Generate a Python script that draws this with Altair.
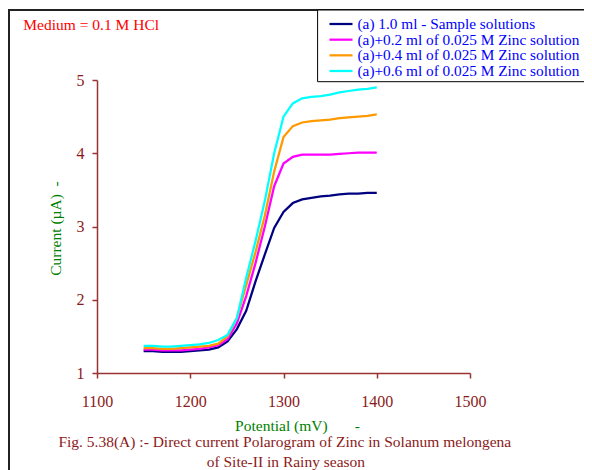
import altair as alt
import pandas as pd

# ---- data ----
potential = [1150, 1160, 1170, 1180, 1190, 1200, 1210, 1220, 1230, 1240, 1250, 1260, 1270,
             1280, 1290, 1300, 1310, 1320, 1330, 1340, 1350, 1360, 1370, 1380, 1390, 1400]
sample = [1.30, 1.30, 1.29, 1.29, 1.29, 1.30, 1.31, 1.32, 1.35, 1.43, 1.60, 1.85, 2.25,
          2.62, 2.98, 3.20, 3.32, 3.37, 3.39, 3.41, 3.42, 3.44, 3.45, 3.45, 3.46, 3.46]
zinc02 = [1.32, 1.32, 1.31, 1.31, 1.31, 1.32, 1.33, 1.35, 1.38, 1.46, 1.68, 2.05, 2.50,
          3.00, 3.55, 3.86, 3.95, 3.98, 3.98, 3.98, 3.98, 3.99, 4.00, 4.01, 4.01, 4.01]
zinc04 = [1.34, 1.34, 1.33, 1.33, 1.34, 1.35, 1.36, 1.37, 1.40, 1.50, 1.75, 2.20, 2.65,
          3.15, 3.75, 4.22, 4.37, 4.42, 4.44, 4.45, 4.46, 4.48, 4.49, 4.50, 4.51, 4.53]
zinc06 = [1.37, 1.37, 1.36, 1.36, 1.37, 1.38, 1.39, 1.41, 1.45, 1.52, 1.75, 2.30, 2.80,
          3.35, 4.00, 4.50, 4.68, 4.75, 4.77, 4.78, 4.80, 4.83, 4.85, 4.87, 4.88, 4.90]

series_names = ["(a) 1.0 ml - Sample solutions",
                "(a)+0.2 ml of 0.025 M Zinc solution",
                "(a)+0.4 ml of 0.025 M Zinc solution",
                "(a)+0.6 ml of 0.025 M Zinc solution"]
series_colors = ["#000080", "#ff00ff", "#ff9900", "#00ffff"]

x_ticks = [1100, 1200, 1300, 1400, 1500]
y_ticks = [1, 2, 3, 4, 5]

medium_text = "Medium = 0.1 M HCl"
caption_lines = ["Fig. 5.38(A) :- Direct current Polarogram of Zinc in Solanum melongena",
                 "of Site-II in Rainy season"]

FONT = "Liberation Serif"
AXIS_COLOR = "#993333"
LABEL_COLOR = "#8b1a1a"

rows = []
for name, vals in zip(series_names, [sample, zinc02, zinc04, zinc06]):
    for p, v in zip(potential, vals):
        rows.append({"series": name, "potential": p, "current": v})
df = pd.DataFrame(rows)

one = pd.DataFrame({"k": [0]})

frame = alt.Chart(one).mark_rect(fillOpacity=0, stroke="#222222", strokeWidth=2).encode(
    x=alt.value(-88), x2=alt.value(700), y=alt.value(-70), y2=alt.value(700)
)

lines = alt.Chart(df).mark_line(strokeWidth=2.25).encode(
    x=alt.X("potential:Q",
            scale=alt.Scale(domain=[1100, 1500], nice=False, zero=False),
            axis=alt.Axis(values=x_ticks, format="d", grid=False, labelFlush=False,
                          title="Potential (mV)\u00a0\u00a0\u00a0\u00a0\u00a0\u00a0\u00a0-",
                          titleX=200, titleY=52, titleAlign="center",
                          titleBaseline="middle",
                          labelPadding=15, tickSize=5)),
    y=alt.Y("current:Q",
            scale=alt.Scale(domain=[1, 5], nice=False, zero=False),
            axis=alt.Axis(values=y_ticks, format="d", grid=False,
                          title="Current (\u00b5A)\u00a0\u00a0-",
                          titleX=-41.7, titleY=148, titleAngle=270,
                          titleAlign="center", titleBaseline="middle",
                          labelPadding=8, tickSize=5)),
    color=alt.Color("series:N", scale=alt.Scale(domain=series_names, range=series_colors),
                    legend=None),
    order=alt.Order("potential:Q"),
)

legend_df = pd.DataFrame({"series": series_names, "color": series_colors,
                          "row": list(range(len(series_names)))})

legend_box = alt.Chart(one).mark_rect(fill="white", stroke="#000000", strokeWidth=1).encode(
    x=alt.value(220.6), x2=alt.value(700), y=alt.value(-70), y2=alt.value(1.7)
)

row_scale = alt.Scale(domain=[0, 3], range=[-56, -9])

legend_lines = alt.Chart(legend_df).mark_rule(strokeWidth=2.25).encode(
    x=alt.value(232.5), x2=alt.value(255.5),
    y=alt.Y("row:Q", scale=row_scale, axis=None),
    color=alt.Color("color:N", scale=None, legend=None),
)

legend_text = alt.Chart(legend_df).mark_text(
    align="left", baseline="middle", font=FONT, fontSize=15.3, color="#0000ff"
).encode(
    x=alt.value(260.5),
    y=alt.Y("row:Q", scale=row_scale, axis=None),
    text="series:N",
)

medium = alt.Chart(pd.DataFrame({"t": [medium_text]})).mark_text(
    align="left", baseline="middle", font=FONT, fontSize=15.5, color="#ff0000"
).encode(x=alt.value(-73.7), y=alt.value(-55), text="t:N")

cap1 = alt.Chart(pd.DataFrame({"t": [caption_lines[0]]})).mark_text(
    align="center", baseline="middle", font=FONT, fontSize=15.5, color=LABEL_COLOR
).encode(x=alt.value(187.8), y=alt.value(362), text="t:N")

cap2 = alt.Chart(pd.DataFrame({"t": [caption_lines[1]]})).mark_text(
    align="center", baseline="middle", font=FONT, fontSize=15.5, color=LABEL_COLOR
).encode(x=alt.value(188.9), y=alt.value(382), text="t:N")

chart = alt.layer(
    frame, lines, legend_box, legend_lines, legend_text, medium, cap1, cap2
).resolve_scale(
    y="independent", color="independent"
).properties(
    width=373, height=293,
    autosize=alt.AutoSizeParams(type="none"),
    padding={"left": 89, "top": 72, "right": 114, "bottom": 97},
).configure_view(
    stroke=None
).configure_axis(
    domainColor=AXIS_COLOR, tickColor=AXIS_COLOR, domainWidth=1.5, tickWidth=1.5,
    labelColor=LABEL_COLOR, labelFont=FONT, labelFontSize=16,
    titleColor="#008000", titleFont=FONT, titleFontSize=15.5, titleFontWeight="normal",
)

chart.save("out.html", embed_options={"renderer": "svg", "actions": False})
